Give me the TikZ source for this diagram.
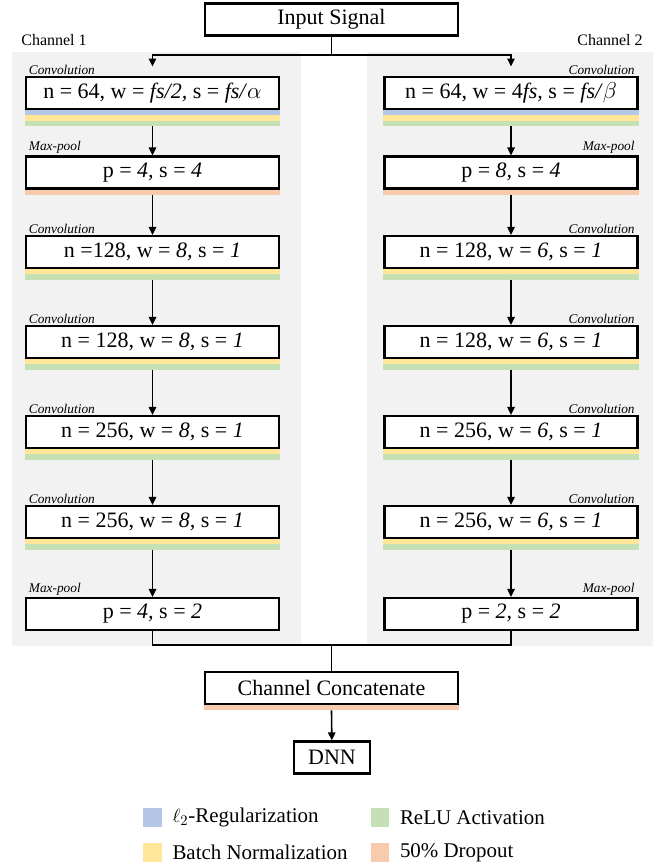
\documentclass[tikz,border=0pt]{standalone}
\usepackage{fontspec}
\setmainfont{Liberation Serif}
\usetikzlibrary{arrows.meta,positioning}
\definecolor{regblue}{HTML}{B4C7E7}
\definecolor{bnyellow}{HTML}{FFE699}
\definecolor{relugreen}{HTML}{C5E0B4}
\definecolor{droporange}{HTML}{F8CBAD}
\definecolor{panelgray}{HTML}{F2F2F2}
\tikzset{
  blk/.style  ={draw,line width=1.8pt,fill=white,minimum width=190pt,
                minimum height=23.8pt,inner sep=0pt,font=\fontsize{16.5}{18}\selectfont},
  tag/.style  ={font=\fontsize{10}{12}\selectfont\itshape,inner sep=1pt},
  chan/.style ={font=\fontsize{12}{14}\selectfont,inner sep=0pt},
  ar/.style   ={-{Triangle[length=6pt,width=5.5pt]},line width=1.2pt},
  wire/.style ={line width=1.2pt},
  key/.style  ={minimum size=14.2pt,inner sep=0pt},
  keytxt/.style={font=\fontsize{15.7}{18}\selectfont,inner sep=0pt},
}
% coloured bands under a box: node, list of colours
\newcommand{\layers}[2]{%
  \foreach \c [count=\i from 0] in {#2}{%
    \fill[\c] ([yshift=-\i*4pt]#1.south west) rectangle ([yshift=-\i*4pt-4pt]#1.south east);}}

\begin{document}
\begin{tikzpicture}[x=0.75pt,y=-0.75pt]
\useasboundingbox (0,0) rectangle (671,866);
% channel panels
\fill[panelgray] (12,52) rectangle (301,646);
\fill[panelgray] (367,52) rectangle (653,646);
\node[chan] (ch1) at (54,40) {Channel 1};
\node[chan] (ch2) at (610,40) {Channel 2};

\node[blk] (inp) at (331.5,19.5) {Input Signal};
% channel 1
\node[blk] (L1) at (152.5,93)  {n = 64, w = \textit{fs/2,} s = \textit{fs/}$\alpha$};
\node[blk] (L2) at (152.5,172.5) {p = \textit{4,} s = \textit{4}};
\node[blk] (L3) at (152.5,252) {n =128, w = \textit{8,} s = \textit{1}};
\node[blk] (L4) at (152.5,342) {n = 128, w = \textit{8,} s = \textit{1}};
\node[blk] (L5) at (152.5,432) {n = 256, w = \textit{8,} s = \textit{1}};
\node[blk] (L6) at (152.5,522) {n = 256, w = \textit{8,} s = \textit{1}};
\node[blk] (L7) at (152.5,614) {p = \textit{4,} s = \textit{2}};
% channel 2
\node[blk] (R1) at (511,93)  {n = 64, w = 4\textit{fs,} s = \textit{fs/}$\beta$};
\node[blk] (R2) at (511,172.5) {p = \textit{8,} s = \textit{4}};
\node[blk] (R3) at (511,252) {n = 128, w = \textit{6,} s = \textit{1}};
\node[blk] (R4) at (511,342) {n = 128, w = \textit{6,} s = \textit{1}};
\node[blk] (R5) at (511,432) {n = 256, w = \textit{6,} s = \textit{1}};
\node[blk] (R6) at (511,522) {n = 256, w = \textit{6,} s = \textit{1}};
\node[blk] (R7) at (511,614) {p = \textit{2,} s = \textit{2}};

\node[blk] (cat) at (331.5,688) {Channel Concatenate};
\node[blk,minimum width=57pt] (dnn) at (332,757.5) {DNN};

% layer tags
\node[tag,above right=0pt and 2pt of L1.north west] (tL1) {Convolution};
\node[tag,above right=0pt and 2pt of L2.north west] (tL2) {Max-pool};
\node[tag,above right=0pt and 2pt of L3.north west] (tL3) {Convolution};
\node[tag,above right=0pt and 2pt of L4.north west] (tL4) {Convolution};
\node[tag,above right=0pt and 2pt of L5.north west] (tL5) {Convolution};
\node[tag,above right=0pt and 2pt of L6.north west] (tL6) {Convolution};
\node[tag,above right=0pt and 2pt of L7.north west] (tL7) {Max-pool};
\node[tag,above left=0pt and 2pt of R1.north east] (tR1) {Convolution};
\node[tag,above left=0pt and 2pt of R2.north east] (tR2) {Max-pool};
\node[tag,above left=0pt and 2pt of R3.north east] (tR3) {Convolution};
\node[tag,above left=0pt and 2pt of R4.north east] (tR4) {Convolution};
\node[tag,above left=0pt and 2pt of R5.north east] (tR5) {Convolution};
\node[tag,above left=0pt and 2pt of R6.north east] (tR6) {Convolution};
\node[tag,above left=0pt and 2pt of R7.north east] (tR7) {Max-pool};

% bands
\layers{L1}{regblue,bnyellow,relugreen} \layers{R1}{regblue,bnyellow,relugreen}
\layers{L2}{droporange} \layers{R2}{droporange}
\foreach \n in {L3,L4,L5,L6,R3,R4,R5,R6} {\layers{\n}{bnyellow,relugreen}}
\layers{cat}{droporange}

% connectors
\coordinate (split) at (331.5,55);
\coordinate (merge) at (331.5,645);
\draw[wire] (inp.south) -- (split);
\draw[ar,shorten >=7pt] (split) -| (L1);
\draw[ar,shorten >=7pt] (split) -| (R1);
\draw[ar] ([yshift=-12pt]L1.south) -- (L2); \draw[ar] ([yshift=-12pt]R1.south) -- (R2);
\draw[ar] ([yshift=-4pt]L2.south) -- (L3);  \draw[ar] ([yshift=-4pt]R2.south) -- (R3);
\draw[ar] ([yshift=-8pt]L3.south) -- (L4);  \draw[ar] ([yshift=-8pt]R3.south) -- (R4);
\draw[ar] ([yshift=-8pt]L4.south) -- (L5);  \draw[ar] ([yshift=-8pt]R4.south) -- (R5);
\draw[ar] ([yshift=-8pt]L5.south) -- (L6);  \draw[ar] ([yshift=-8pt]R5.south) -- (R6);
\draw[ar] ([yshift=-8pt]L6.south) -- (L7);  \draw[ar] ([yshift=-8pt]R6.south) -- (R7);
\draw[wire] (L7.south) |- (merge) -| (R7.south);
\draw[wire] (merge) -- (cat);
\draw[ar] ([yshift=-4pt]cat.south) -- (dnn);

% legend
\node[key,fill=regblue]    (kreg)  at (152.5,817.5) {};
\node[key,fill=bnyellow]   (kbn)   at (152.5,852.5) {};
\node[key,fill=relugreen]  (krelu) at (380,817.5) {};
\node[key,fill=droporange] (kdrop) at (380,852.5) {};
\node[keytxt,right=7.5pt of kreg]  (treg)  {$\ell_2$-Regularization};
\node[keytxt,right=7.5pt of kbn]   (tbn)   {Batch Normalization};
\node[keytxt,right=7.5pt of krelu] (trelu) {ReLU Activation};
\node[keytxt,right=7.5pt of kdrop] (tdrop) {50\% Dropout};
\end{tikzpicture}
\end{document}
